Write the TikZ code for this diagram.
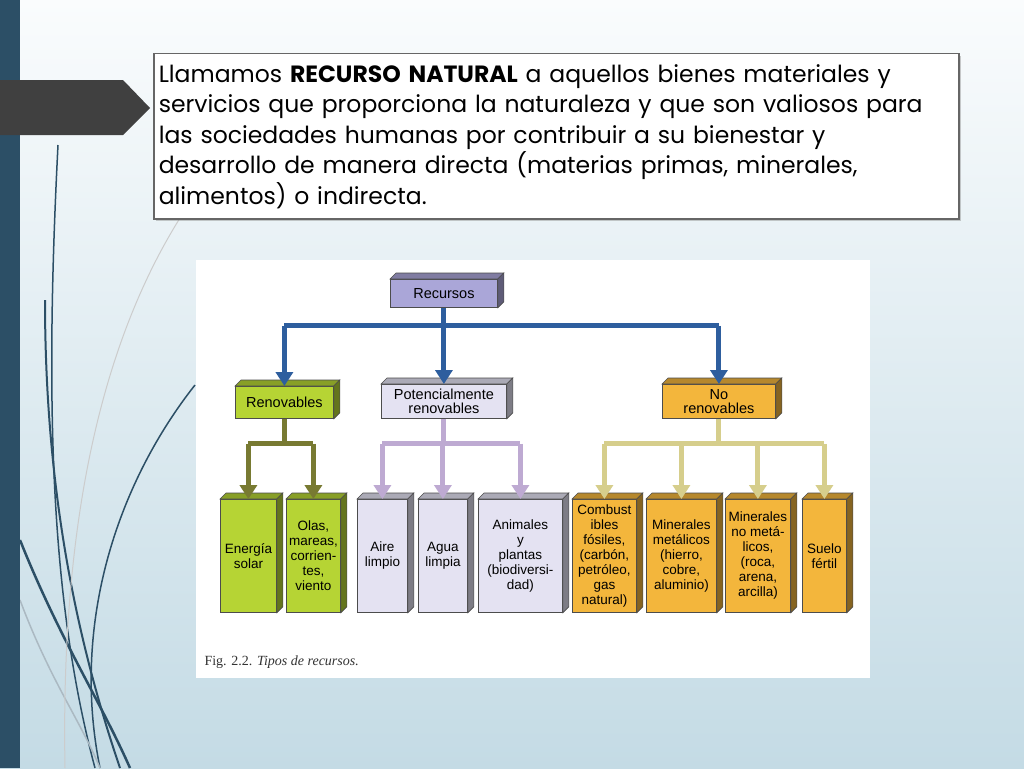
\documentclass[tikz,border=0pt]{standalone}
\usepackage{fontspec}
\setmainfont{Liberation Serif}
\setsansfont{Liberation Sans}
\newfontfamily\slidefont{Poppins}
\usetikzlibrary{positioning, arrows.meta, shadows, calc}

\definecolor{barblue}{RGB}{44,79,102}
\definecolor{arrowgray}{RGB}{64,64,64}
\definecolor{bgtop}{RGB}{250,252,253}
\definecolor{bgbot}{RGB}{196,219,229}
\definecolor{recblue}{RGB}{46,94,158}
\definecolor{reclav}{RGB}{170,166,216}
\definecolor{renogreen}{RGB}{182,212,52}
\definecolor{renoline}{RGB}{120,122,50}
\definecolor{potlav}{RGB}{228,226,242}
\definecolor{potline}{RGB}{190,170,210}
\definecolor{noorange}{RGB}{243,182,60}
\definecolor{noline}{RGB}{214,206,140}

\tikzset{
  cube/.style={draw=black!70, line width=0.8pt, font=\sffamily\fontsize{14.5}{14}\selectfont,
    align=center, inner sep=1pt, anchor=north west},
  flow/.style={line width=5pt, -{Triangle[width=17pt,length=14pt]}},
}
% 3D box faces
\newcommand{\cubefaces}[2]{%
  \fill[#2!75!black, draw=black!70, line width=0.6pt]
    (#1.north west) -- ++(6,-6) -- ($(#1.north east)+(6,-6)$) -- (#1.north east) -- cycle;
  \fill[#2!55!black, draw=black!70, line width=0.6pt]
    (#1.north east) -- ++(6,-6) -- ($(#1.south east)+(6,-6)$) -- (#1.south east) -- cycle;
}

\begin{document}
\begin{tikzpicture}[x=1pt, y=-1pt]
  \useasboundingbox (0,0) rectangle (1024,768);
  \shade[top color=bgtop, bottom color=bgbot] (0,0) rectangle (1024,768);

  % decorative curves
  \draw[barblue, line width=2.5pt] (20,540) .. controls (60,640) and (100,700) .. (130,768);
  \draw[barblue, line width=2pt] (45,300) .. controls (45,500) and (80,650) .. (120,768);
  \draw[barblue, line width=1.5pt] (58,145) .. controls (45,400) and (50,600) .. (95,768);
  \draw[barblue, line width=1.5pt] (195,385) .. controls (120,480) and (70,620) .. (100,768);
  \draw[barblue!40, line width=1.5pt] (20,600) .. controls (50,680) and (80,720) .. (100,768);
  \draw[black!20, line width=1pt] (180,218) .. controls (110,330) and (60,500) .. (65,768);
  \fill[barblue] (0,0) rectangle (20,768);

  % banner arrow
  \fill[arrowgray] (0,80) -- (123,80) -- (150,108) -- (123,135) -- (0,135) -- cycle;

  % definition box
  \node[draw=black!60, line width=1.5pt, fill=white, drop shadow={opacity=0.4},
    text width=795pt, minimum height=165pt, inner sep=5pt, anchor=north west, align=left,
    font=\slidefont\fontsize{23.5}{30.5}\selectfont] (def) at (153,53)
    {Llamamos \textbf{RECURSO NATURAL} a aquellos bienes materiales y\\
     servicios que proporciona la naturaleza y que son valiosos para\\
     las sociedades humanas por contribuir a su bienestar y\\
     desarrollo de manera directa (materias primas, minerales,\\
     alimentos) o indirecta.};

  % figure
  \fill[white] (196,260) rectangle (870,678);

  \node[cube, fill=reclav, minimum width=107pt, minimum height=28pt] (rec) at (390,279) {Recursos};
  \node[cube, fill=renogreen, minimum width=98pt, minimum height=32pt] (reno) at (235,386) {Renovables};
  \node[cube, fill=potlav, minimum width=125pt, minimum height=34pt] (pot) at (381,384) {Potencialmente\\renovables};
  \node[cube, fill=noorange, minimum width=113pt, minimum height=34pt] (nore) at (662,384) {No\\renovables};

  \foreach \n/\x/\w/\c/\t in {
    solar/220/56/renogreen/{Energía\\solar},
    olas/286/54/renogreen/{Olas,\\mareas,\\corrien-\\tes,\\viento},
    aire/357/50/potlav/{Aire\\limpio},
    agua/418/49/potlav/{Agua\\limpia},
    anim/478/84/potlav/{Animales\\y\\plantas\\(biodiversi-\\dad)},
    comb/572/64/noorange/{Combust\\ibles\\fósiles,\\(carbón,\\petróleo,\\gas\\natural)},
    meta/646/70/noorange/{Minerales\\metálicos\\(hierro,\\cobre,\\aluminio)},
    nometa/725/65/noorange/{Minerales\\no metá-\\licos,\\(roca,\\arena,\\arcilla)},
    suelo/802/44/noorange/{Suelo\\fértil}}{
    \node[cube, fill=\c, minimum width=\w pt, minimum height=113pt,
      font=\sffamily\fontsize{13.5}{15}\selectfont] (\n) at (\x,499) {\t};
  }

  \foreach \n/\c in {rec/reclav, reno/renogreen, pot/potlav, nore/noorange,
    solar/renogreen, olas/renogreen, aire/potlav, agua/potlav, anim/potlav,
    comb/noorange, meta/noorange, nometa/noorange, suelo/noorange}{
    \cubefaces{\n}{\c}
  }

  % connectors
  \draw[recblue, line width=5pt] (rec.south) -- ++(0,18) coordinate (hub);
  \draw[recblue, line width=5pt] (reno.north |- hub) -- (nore.north |- hub);
  \draw[flow, recblue] (reno.north |- hub) -- (reno.north);
  \draw[flow, recblue] (hub) -- (pot.north);
  \draw[flow, recblue] (nore.north |- hub) -- (nore.north);

  \draw[renoline, line width=5pt] (reno.south) -- ++(0,25) coordinate (hreno);
  \draw[renoline, line width=5pt] (solar.north |- hreno) -- (olas.north |- hreno);
  \foreach \n in {solar, olas}
    \draw[flow, renoline] (\n.north |- hreno) -- (\n.north);

  \draw[potline, line width=5pt] (pot.south) -- ++(0,25) coordinate (hpot);
  \draw[potline, line width=5pt] (aire.north |- hpot) -- (anim.north |- hpot);
  \foreach \n in {aire, agua, anim}
    \draw[flow, potline] (\n.north |- hpot) -- (\n.north);

  \draw[noline, line width=5pt] (nore.south) -- ++(0,25) coordinate (hno);
  \draw[noline, line width=5pt] (comb.north |- hno) -- (suelo.north |- hno);
  \foreach \n in {comb, meta, nometa, suelo}
    \draw[flow, noline] (\n.north |- hno) -- (\n.north);

  \node[anchor=west, font=\fontsize{14}{14}\selectfont, text=black!80] (cap) at (201,662)
    {Fig. 2.2. \textit{Tipos de recursos.}};
\end{tikzpicture}
\end{document}
